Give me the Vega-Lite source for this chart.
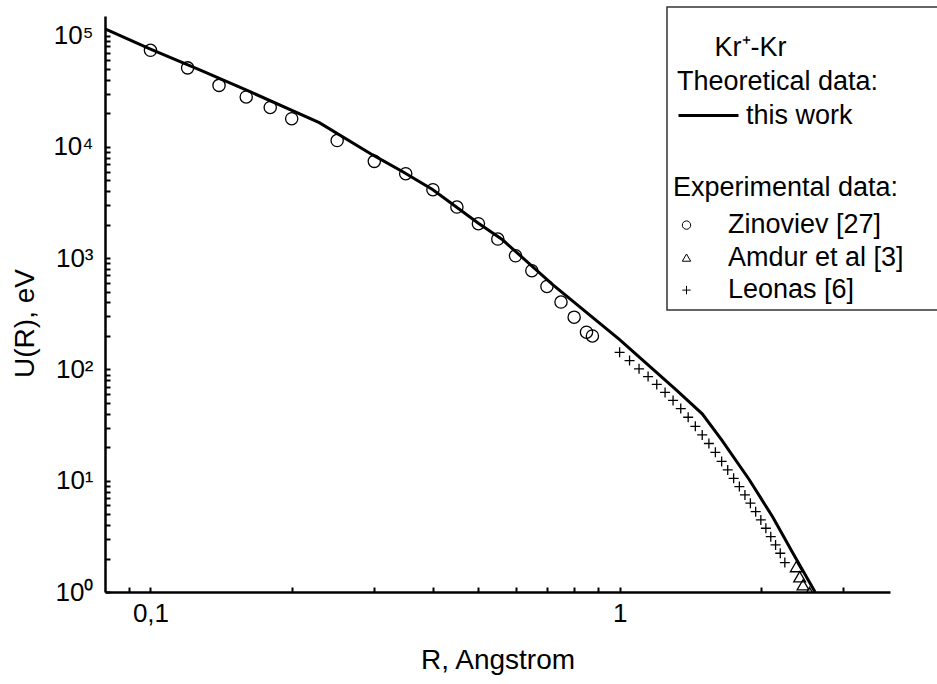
{
  "$schema": "https://vega.github.io/schema/vega-lite/v6.json",
  "width": 785,
  "height": 576,
  "autosize": {"type": "none"},
  "padding": {"left": 105, "top": 16, "right": 47, "bottom": 92},
  "background": "white",
  "config": {
    "font": "Liberation Sans",
    "view": {"stroke": null},
    "axis": {"grid": false, "domainColor": "black", "domainWidth": 2.5, "tickColor": "black", "tickWidth": 2, "labelColor": "black", "labelFontSize": 26, "titleFontSize": 28, "titleFontWeight": "normal", "titleColor": "black", "labelFont": "Liberation Sans", "titleFont": "Liberation Sans", "labelOverlap": false, "labelFlush": false, "ticks": true, "tickSize": -5},
    "legend": {"titleFontWeight": "normal", "titleFontSize": 27, "labelFontSize": 27, "titleColor": "black", "labelColor": "black", "titleFont": "Liberation Sans", "labelFont": "Liberation Sans", "titleLimit": 2000, "labelLimit": 2000, "strokeWidth": 1.5}
  },
  "data": {"values": [
    {"src": "this work", "R": 0.08, "U": 115000},
    {"src": "this work", "R": 0.1, "U": 75600},
    {"src": "this work", "R": 0.127, "U": 49400},
    {"src": "this work", "R": 0.163, "U": 31300},
    {"src": "this work", "R": 0.229, "U": 16500},
    {"src": "this work", "R": 0.297, "U": 8510},
    {"src": "this work", "R": 0.345, "U": 5970},
    {"src": "this work", "R": 0.4, "U": 4120},
    {"src": "this work", "R": 0.5, "U": 2060},
    {"src": "this work", "R": 0.563, "U": 1463},
    {"src": "this work", "R": 0.72, "U": 577},
    {"src": "this work", "R": 1.0, "U": 185},
    {"src": "this work", "R": 1.32, "U": 65.6},
    {"src": "this work", "R": 1.5, "U": 39.9},
    {"src": "this work", "R": 1.65, "U": 23.3},
    {"src": "this work", "R": 1.89, "U": 10.2},
    {"src": "this work", "R": 2.12, "U": 4.72},
    {"src": "this work", "R": 2.34, "U": 2.24},
    {"src": "this work", "R": 2.61, "U": 1.0},
    {"src": "Zinoviev [27]", "R": 0.1, "U": 73800},
    {"src": "Zinoviev [27]", "R": 0.12, "U": 51300},
    {"src": "Zinoviev [27]", "R": 0.14, "U": 35700},
    {"src": "Zinoviev [27]", "R": 0.16, "U": 28100},
    {"src": "Zinoviev [27]", "R": 0.18, "U": 22600},
    {"src": "Zinoviev [27]", "R": 0.2, "U": 17900},
    {"src": "Zinoviev [27]", "R": 0.25, "U": 11400},
    {"src": "Zinoviev [27]", "R": 0.3, "U": 7410},
    {"src": "Zinoviev [27]", "R": 0.35, "U": 5740},
    {"src": "Zinoviev [27]", "R": 0.4, "U": 4120},
    {"src": "Zinoviev [27]", "R": 0.45, "U": 2880},
    {"src": "Zinoviev [27]", "R": 0.5, "U": 2040},
    {"src": "Zinoviev [27]", "R": 0.55, "U": 1485},
    {"src": "Zinoviev [27]", "R": 0.6, "U": 1050},
    {"src": "Zinoviev [27]", "R": 0.65, "U": 771},
    {"src": "Zinoviev [27]", "R": 0.7, "U": 557},
    {"src": "Zinoviev [27]", "R": 0.75, "U": 403},
    {"src": "Zinoviev [27]", "R": 0.8, "U": 295},
    {"src": "Zinoviev [27]", "R": 0.85, "U": 216},
    {"src": "Zinoviev [27]", "R": 0.875, "U": 200},
    {"src": "Amdur et al [3]", "R": 2.38, "U": 1.69},
    {"src": "Amdur et al [3]", "R": 2.42, "U": 1.37},
    {"src": "Amdur et al [3]", "R": 2.46, "U": 1.16},
    {"src": "Amdur et al [3]", "R": 2.54, "U": 0.99},
    {"src": "Leonas [6]", "R": 1.0, "U": 142.5},
    {"src": "Leonas [6]", "R": 1.05, "U": 120.2},
    {"src": "Leonas [6]", "R": 1.1, "U": 101.2},
    {"src": "Leonas [6]", "R": 1.15, "U": 86.3},
    {"src": "Leonas [6]", "R": 1.2, "U": 73.4},
    {"src": "Leonas [6]", "R": 1.25, "U": 62.2},
    {"src": "Leonas [6]", "R": 1.3, "U": 52.7},
    {"src": "Leonas [6]", "R": 1.35, "U": 44.5},
    {"src": "Leonas [6]", "R": 1.4, "U": 37.2},
    {"src": "Leonas [6]", "R": 1.45, "U": 30.8},
    {"src": "Leonas [6]", "R": 1.5, "U": 25.8},
    {"src": "Leonas [6]", "R": 1.55, "U": 21.6},
    {"src": "Leonas [6]", "R": 1.6, "U": 18.0},
    {"src": "Leonas [6]", "R": 1.65, "U": 14.9},
    {"src": "Leonas [6]", "R": 1.7, "U": 12.5},
    {"src": "Leonas [6]", "R": 1.75, "U": 10.5},
    {"src": "Leonas [6]", "R": 1.8, "U": 8.85},
    {"src": "Leonas [6]", "R": 1.85, "U": 7.45},
    {"src": "Leonas [6]", "R": 1.9, "U": 6.28},
    {"src": "Leonas [6]", "R": 1.95, "U": 5.27},
    {"src": "Leonas [6]", "R": 2.0, "U": 4.44},
    {"src": "Leonas [6]", "R": 2.05, "U": 3.74},
    {"src": "Leonas [6]", "R": 2.1, "U": 3.14},
    {"src": "Leonas [6]", "R": 2.15, "U": 2.65},
    {"src": "Leonas [6]", "R": 2.2, "U": 2.23},
    {"src": "Leonas [6]", "R": 2.25, "U": 1.84}
  ]},
  "layer": [
    {
      "transform": [{"filter": "datum.src == 'this work'"}],
      "mark": {"type": "line", "strokeWidth": 3, "clip": true},
      "encoding": {
        "x": {"field": "R", "type": "quantitative",
          "scale": {"type": "log", "domain": [0.08, 3.77], "nice": false},
          "axis": {"title": "R, Angstrom",
            "values": [0.09, 0.1, 0.2, 0.3, 0.4, 0.5, 0.6, 0.7, 0.8, 0.9, 1, 2, 3],
            "labelExpr": "datum.value == 0.1 ? '0,1' : (datum.value == 1 ? '1' : '')",
            "encode": {"ticks": {"y2": {"signal": "(datum.value == 0.1 || datum.value == 1) ? -10 : -5"}}},
            "labelPadding": 13, "titlePadding": 20}},
        "y": {"field": "U", "type": "quantitative",
          "scale": {"type": "log", "domain": [1, 150000], "nice": false},
          "axis": {"title": "U(R), eV",
            "values": [1,2,3,4,5,6,7,8,9,10,20,30,40,50,60,70,80,90,100,200,300,400,500,600,700,800,900,1000,2000,3000,4000,5000,6000,7000,8000,9000,10000,20000,30000,40000,50000,60000,70000,80000,90000,100000],
            "labelExpr": "indexof([1,10,100,1000,10000,100000], datum.value) >= 0 ? '10' + ['⁰','¹','²','³','⁴','⁵'][indexof([1,10,100,1000,10000,100000], datum.value)] : ''",
            "encode": {"ticks": {"x2": {"signal": "indexof([1,10,100,1000,10000,100000], datum.value) >= 0 ? -11 : -6"}}},
            "labelPadding": 17,
            "titleAngle": 270, "titleAlign": "center", "titleBaseline": "middle", "titleX": -80, "titleY": 307}},
        "stroke": {"field": "src", "type": "nominal",
          "scale": {"domain": ["this work"], "range": ["black"]},
          "legend": {"title": ["\u200b\u00a0\u00a0\u00a0\u00a0\u00a0Kr⁺-Kr", "Theoretical data:"],
            "orient": "none", "legendX": 572, "legendY": 19, "padding": 0,
            "titleLineHeight": 34, "titlePadding": -12,
            "symbolType": "stroke", "symbolSize": 3600, "symbolStrokeWidth": 3, "symbolStrokeColor": "black", "labelOffset": 6}}
      }
    },
    {
      "transform": [{"filter": "datum.src == 'Zinoviev [27]'"}],
      "mark": {"type": "point", "filled": false, "color": "black", "strokeWidth": 1.3, "opacity": 1, "size": 150, "clip": true},
      "encoding": {
        "x": {"field": "R", "type": "quantitative"},
        "y": {"field": "U", "type": "quantitative"},
        "shape": {"field": "src", "type": "nominal",
          "scale": {"domain": ["Zinoviev [27]", "Amdur et al [3]", "Leonas [6]"], "range": ["circle", "triangle-up", "M-1,0H1M0,-1V1"]},
          "legend": {"title": ["\u200b\u00a0\u00a0\u00a0\u00a0\u00a0\u00a0\u00a0\u00a0\u00a0\u00a0\u00a0\u00a0\u00a0\u00a0\u00a0\u00a0\u00a0\u00a0\u00a0\u00a0\u00a0\u00a0\u00a0\u00a0\u00a0\u00a0\u00a0\u00a0\u00a0\u00a0\u00a0\u00a0\u00a0\u00a0\u00a0\u00a0\u200b", "\u200b", "\u200b", "\u200b", "Experimental data:"],
            "orient": "none", "legendX": 562, "legendY": -9, "padding": 6,
            "strokeColor": "#333333",
            "titleLineHeight": 40.4, "titlePadding": 10, "rowPadding": 4.5,
            "symbolSize": 70, "symbolStrokeWidth": 1, "symbolStrokeColor": "black", "symbolFillColor": "transparent",
            "symbolOffset": 0, "labelOffset": 28}}
      }
    },
    {
      "transform": [{"filter": "datum.src == 'Amdur et al [3]'"}],
      "mark": {"type": "point", "filled": false, "color": "black", "strokeWidth": 1.3, "opacity": 1, "size": 140, "clip": true},
      "encoding": {
        "x": {"field": "R", "type": "quantitative"},
        "y": {"field": "U", "type": "quantitative"},
        "shape": {"field": "src", "type": "nominal"}
      }
    },
    {
      "transform": [{"filter": "datum.src == 'Leonas [6]'"}],
      "mark": {"type": "point", "filled": false, "color": "black", "strokeWidth": 1.3, "opacity": 1, "size": 100, "clip": true},
      "encoding": {
        "x": {"field": "R", "type": "quantitative"},
        "y": {"field": "U", "type": "quantitative"},
        "shape": {"field": "src", "type": "nominal"}
      }
    }
  ]
}
